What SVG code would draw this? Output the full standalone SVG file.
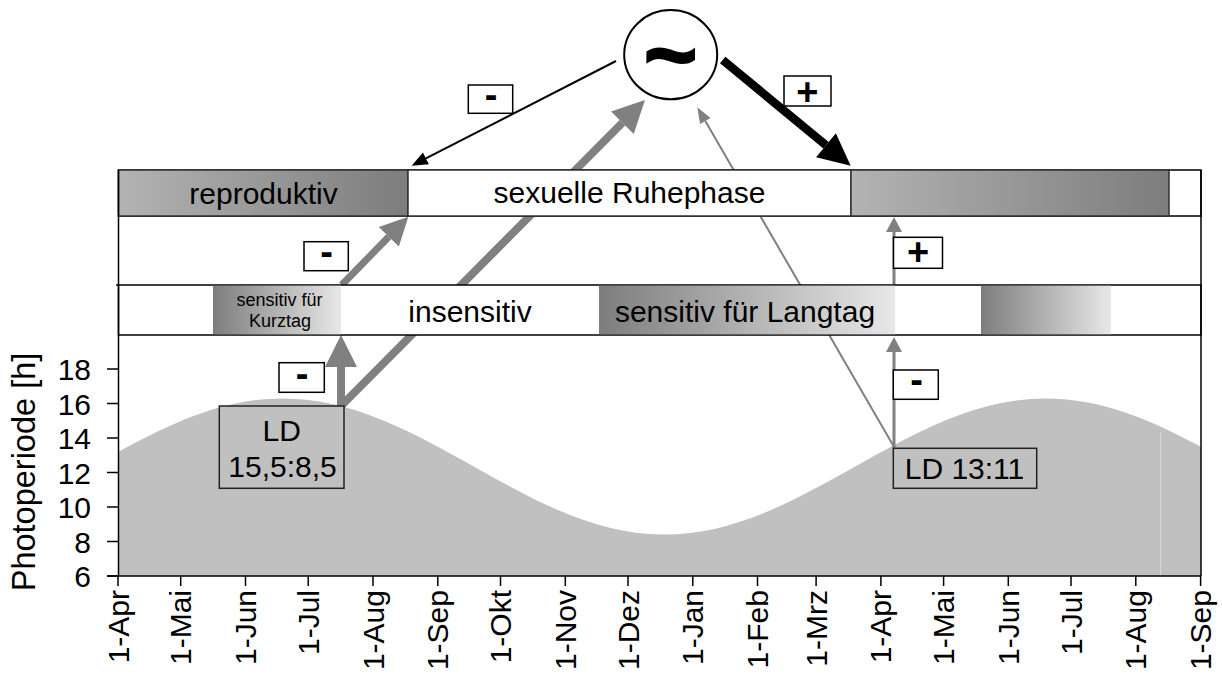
<svg xmlns="http://www.w3.org/2000/svg" width="1222" height="677" viewBox="0 0 1222 677">
  <style>
    .t { font-family: "Liberation Sans", Arial, sans-serif; fill: #000; }
    .big { font-size: 30px; }
    .small { font-size: 18px; }
    .sign { font-size: 38px; font-weight: bold; text-anchor: middle; }
    .mid { text-anchor: middle; }
    .end { text-anchor: end; }
    .frame { stroke: #000; stroke-width: 1.5; fill: none; }
    .row { fill: #fff; stroke: #000; stroke-width: 1.5; }
    .seg { stroke: #333; stroke-width: 1.5; }
    .signbox { fill: #fff; stroke: #000; stroke-width: 1.5; }
    .ldbox { fill: #c0c0c0; stroke: #222; stroke-width: 1.5; }
    .tick { stroke: #000; stroke-width: 1.5; }
    .grey8 { stroke: #808080; stroke-width: 8; fill: none; }
    .grey7 { stroke: #808080; stroke-width: 7; fill: none; }
    .grey3 { stroke: #808080; stroke-width: 3; fill: none; }
    .grey2 { stroke: #808080; stroke-width: 2; fill: none; }
    .black2 { stroke: #000; stroke-width: 2; fill: none; }
    .black8 { stroke: #000; stroke-width: 8.5; fill: none; }
  </style>
  <defs>
    <linearGradient id="gDark" x1="0" y1="0" x2="1" y2="0">
      <stop offset="0" stop-color="#b3b3b3"/>
      <stop offset="1" stop-color="#7d7d7d"/>
    </linearGradient>
    <linearGradient id="gLight" x1="0" y1="0" x2="1" y2="0">
      <stop offset="0" stop-color="#7d7d7d"/>
      <stop offset="1" stop-color="#e8e8e8"/>
    </linearGradient>
    <clipPath id="plotClip">
      <rect x="118" y="300" width="1083" height="276"/>
    </clipPath>
    <!-- arrowheads: reference point at the base, tip points along the path -->
    <marker id="hBlackS" markerUnits="userSpaceOnUse" viewBox="0 0 16 13" markerWidth="16" markerHeight="13" refX="0" refY="6.5" orient="auto" overflow="visible">
      <path d="M0,0 L16,6.5 L0,13 Z" fill="#000"/>
    </marker>
    <marker id="hBlackL" markerUnits="userSpaceOnUse" viewBox="0 0 32 31" markerWidth="32" markerHeight="31" refX="0" refY="15.5" orient="auto" overflow="visible">
      <path d="M0,0 L32,15.5 L0,31 Z" fill="#000"/>
    </marker>
    <marker id="hGreyL" markerUnits="userSpaceOnUse" viewBox="0 0 32 32" markerWidth="32" markerHeight="32" refX="0" refY="16" orient="auto" overflow="visible">
      <path d="M0,0 L32,16 L0,32 Z" fill="#808080"/>
    </marker>
    <marker id="hGreyM" markerUnits="userSpaceOnUse" viewBox="0 0 28 28" markerWidth="28" markerHeight="28" refX="0" refY="14" orient="auto" overflow="visible">
      <path d="M0,0 L28,14 L0,28 Z" fill="#808080"/>
    </marker>
    <marker id="hGreyS" markerUnits="userSpaceOnUse" viewBox="0 0 16 12" markerWidth="16" markerHeight="12" refX="0" refY="6" orient="auto" overflow="visible">
      <path d="M0,0 L16,6 L0,12 Z" fill="#808080"/>
    </marker>
    <marker id="hGreyV" markerUnits="userSpaceOnUse" viewBox="0 0 15 16" markerWidth="15" markerHeight="16" refX="0" refY="8" orient="auto" overflow="visible">
      <path d="M0,0 L15,8 L0,16 Z" fill="#808080"/>
    </marker>
  </defs>

  <rect x="0" y="0" width="1222" height="677" fill="#fff"/>

  <!-- day length curve -->
  <g id="photoperiod-curve" clip-path="url(#plotClip)">
    <path fill="#c0c0c0" d="M92.4,576 L92.4,466.5 C154.6,431.6 214.1,398.4 283.1,398.4 C352.1,398.4 411.6,431.6 473.8,466.5 C536,501.4 595.5,534.6 664.5,534.6 C733.5,534.6 793,501.4 855.2,466.5 C917.4,431.6 976.9,398.4 1045.9,398.4 C1114.9,398.4 1174.4,431.6 1236.6,466.5 L1236.6,576 Z"/>
    <line x1="1160.5" y1="432" x2="1160.5" y2="576" stroke="#d6d6d6" stroke-width="1"/>
  </g>

  <!-- y axis -->
  <g id="y-axis">
    <line class="tick" x1="107" y1="369" x2="118" y2="369"/>
    <line class="tick" x1="107" y1="403.5" x2="118" y2="403.5"/>
    <line class="tick" x1="107" y1="438" x2="118" y2="438"/>
    <line class="tick" x1="107" y1="472.5" x2="118" y2="472.5"/>
    <line class="tick" x1="107" y1="507" x2="118" y2="507"/>
    <line class="tick" x1="107" y1="541.5" x2="118" y2="541.5"/>
    <line class="tick" x1="107" y1="576" x2="118" y2="576"/>
    <text class="t big end" x="91" y="380">18</text>
    <text class="t big end" x="91" y="414.5">16</text>
    <text class="t big end" x="91" y="449">14</text>
    <text class="t big end" x="91" y="483.5">12</text>
    <text class="t big end" x="91" y="518">10</text>
    <text class="t big end" x="91" y="552.5">8</text>
    <text class="t big end" x="91" y="587">6</text>
    <text class="t mid" font-size="32.5" transform="translate(35,472) rotate(-90)">Photoperiode [h]</text>
  </g>

  <!-- x axis with month ticks -->
  <g id="x-axis">
    <line class="tick" x1="107" y1="576" x2="1201" y2="576"/>
    <g class="tick">
      <line x1="118" y1="576" x2="118" y2="586"/>
      <line x1="180.7" y1="576" x2="180.7" y2="586"/>
      <line x1="245.5" y1="576" x2="245.5" y2="586"/>
      <line x1="308.2" y1="576" x2="308.2" y2="586"/>
      <line x1="373" y1="576" x2="373" y2="586"/>
      <line x1="437.8" y1="576" x2="437.8" y2="586"/>
      <line x1="500.5" y1="576" x2="500.5" y2="586"/>
      <line x1="565.3" y1="576" x2="565.3" y2="586"/>
      <line x1="628" y1="576" x2="628" y2="586"/>
      <line x1="692.8" y1="576" x2="692.8" y2="586"/>
      <line x1="757.5" y1="576" x2="757.5" y2="586"/>
      <line x1="816.1" y1="576" x2="816.1" y2="586"/>
      <line x1="880.9" y1="576" x2="880.9" y2="586"/>
      <line x1="943.6" y1="576" x2="943.6" y2="586"/>
      <line x1="1008.3" y1="576" x2="1008.3" y2="586"/>
      <line x1="1071" y1="576" x2="1071" y2="586"/>
      <line x1="1135.8" y1="576" x2="1135.8" y2="586"/>
      <line x1="1200.6" y1="576" x2="1200.6" y2="586"/>
    </g>
    <text class="t big end" transform="translate(128.5,590) rotate(-90)">1-Apr</text>
    <text class="t big end" transform="translate(191.2,590) rotate(-90)">1-Mai</text>
    <text class="t big end" transform="translate(256,590) rotate(-90)">1-Jun</text>
    <text class="t big end" transform="translate(318.7,590) rotate(-90)">1-Jul</text>
    <text class="t big end" transform="translate(383.5,590) rotate(-90)">1-Aug</text>
    <text class="t big end" transform="translate(448.3,590) rotate(-90)">1-Sep</text>
    <text class="t big end" transform="translate(511,590) rotate(-90)">1-Okt</text>
    <text class="t big end" transform="translate(575.8,590) rotate(-90)">1-Nov</text>
    <text class="t big end" transform="translate(638.5,590) rotate(-90)">1-Dez</text>
    <text class="t big end" transform="translate(703.3,590) rotate(-90)">1-Jan</text>
    <text class="t big end" transform="translate(768,590) rotate(-90)">1-Feb</text>
    <text class="t big end" transform="translate(826.6,590) rotate(-90)">1-Mrz</text>
    <text class="t big end" transform="translate(891.4,590) rotate(-90)">1-Apr</text>
    <text class="t big end" transform="translate(954.1,590) rotate(-90)">1-Mai</text>
    <text class="t big end" transform="translate(1018.8,590) rotate(-90)">1-Jun</text>
    <text class="t big end" transform="translate(1081.5,590) rotate(-90)">1-Jul</text>
    <text class="t big end" transform="translate(1146.3,590) rotate(-90)">1-Aug</text>
    <text class="t big end" transform="translate(1211.1,590) rotate(-90)">1-Sep</text>
  </g>

  <!-- connectors -->
  <g id="connectors">
    <path class="black2" d="M616,61 L425.9,158.4" marker-end="url(#hBlackS)"/>
    <path class="black8" d="M722.7,60 L826,145.3" marker-end="url(#hBlackL)"/>
    <path class="grey8" d="M341,406 L622.4,122.7" marker-end="url(#hGreyL)"/>
    <path class="grey8" d="M341,406 L341,367" marker-end="url(#hGreyL)"/>
    <path class="grey7" d="M341.7,285 L388.8,236.7" marker-end="url(#hGreyM)"/>
    <path class="grey2" d="M893.5,446 L705.3,121.1" marker-end="url(#hGreyS)"/>
    <path class="grey3" d="M894,448 L894,352" marker-end="url(#hGreyV)"/>
    <path class="grey3" d="M894,285 L894,232" marker-end="url(#hGreyV)"/>
  </g>

  <!-- reproductive phase row -->
  <g id="row-reproduction">
    <rect class="row" x="118.5" y="170" width="1082.5" height="46"/>
    <g id="reproduktiv">
      <rect class="seg" x="118.5" y="170" width="289.5" height="46" fill="url(#gDark)"/>
      <text class="t big mid" x="263.5" y="203.5">reproduktiv</text>
    </g>
    <g id="ruhephase">
      <rect class="seg" x="408" y="170" width="443" height="46" fill="#fff"/>
      <text class="t big mid" x="629.5" y="202.5">sexuelle Ruhephase</text>
    </g>
    <g id="reproduktiv-2">
      <rect class="seg" x="851" y="170" width="318" height="46" fill="url(#gDark)"/>
    </g>
  </g>

  <!-- photoperiodic sensitivity row -->
  <g id="row-sensitivity">
    <rect class="row" x="118.5" y="285" width="1082.5" height="50"/>
    <g id="sensitiv-kurztag">
      <rect x="213" y="285.75" width="128" height="48.5" fill="url(#gLight)"/>
      <text class="t small mid" x="279.5" y="306">sensitiv für</text>
      <text class="t small mid" x="280" y="326.5">Kurztag</text>
    </g>
    <g id="insensitiv">
      <text class="t big mid" x="470" y="321.5">insensitiv</text>
    </g>
    <g id="sensitiv-langtag">
      <rect x="599" y="285.75" width="296" height="48.5" fill="url(#gLight)"/>
      <text class="t big mid" x="745" y="321.5">sensitiv für Langtag</text>
    </g>
    <g id="sensitiv-2">
      <rect x="981" y="285.75" width="130" height="48.5" fill="url(#gLight)"/>
    </g>
  </g>

  <!-- outer frame -->
  <g id="frame" class="frame">
    <line x1="118.5" y1="170" x2="118.5" y2="576"/>
    <line x1="1201" y1="170" x2="1201" y2="576"/>
    <line x1="116" y1="285" x2="119" y2="285"/>
  </g>

  <!-- clock -->
  <g id="clock">
    <ellipse cx="670.7" cy="54.7" rx="46.5" ry="44.6" fill="#fff" stroke="#000" stroke-width="2"/>
    <text class="t mid" x="670.7" y="86" font-size="92" font-weight="bold" stroke="#000" stroke-width="2">~</text>
  </g>

  <!-- light regime boxes -->
  <g id="ld-15-5">
    <rect class="ldbox" x="219.3" y="406" width="124.7" height="82.3"/>
    <text class="t big mid" x="281.7" y="440.5">LD</text>
    <text class="t big mid" x="282.5" y="476.5">15,5:8,5</text>
  </g>
  <g id="ld-13-11">
    <rect class="ldbox" x="893.3" y="448.3" width="143.4" height="40"/>
    <text class="t big mid" x="964.5" y="478.5">LD 13:11</text>
  </g>

  <!-- effect signs -->
  <g id="sign-clock-minus">
    <rect class="signbox" x="468.3" y="85" width="44.4" height="28.3"/>
    <text class="t sign" x="491" y="107.5">-</text>
  </g>
  <g id="sign-clock-plus">
    <rect class="signbox" x="784" y="76" width="47" height="30"/>
    <text class="t sign" x="807.3" y="104.5">+</text>
  </g>
  <g id="sign-kurztag-minus">
    <rect class="signbox" x="304" y="241.7" width="44.3" height="29"/>
    <text class="t sign" x="326.5" y="265">-</text>
  </g>
  <g id="sign-ld15-minus">
    <rect class="signbox" x="279" y="362.7" width="45.3" height="29.6"/>
    <text class="t sign" x="302" y="386.6">-</text>
  </g>
  <g id="sign-langtag-plus">
    <rect class="signbox" x="893.5" y="237.3" width="49" height="31"/>
    <text class="t sign" x="918.2" y="265.3">+</text>
  </g>
  <g id="sign-ld13-minus">
    <rect class="signbox" x="893.3" y="370" width="45" height="29.3"/>
    <text class="t sign" x="916.5" y="393.2">-</text>
  </g>
</svg>
